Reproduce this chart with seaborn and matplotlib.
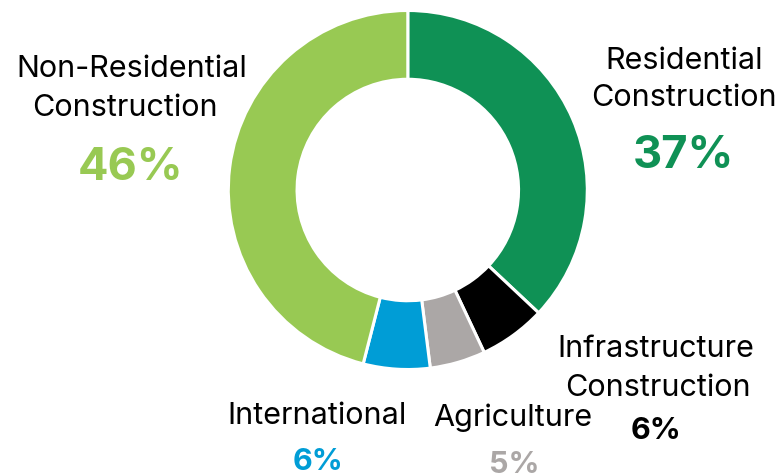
import matplotlib
matplotlib.use("Agg")
import matplotlib.pyplot as plt
import seaborn as sns

# Segment shares (percent), clockwise from 12 o'clock
segments = ["Residential Construction", "Infrastructure Construction",
            "Agriculture", "International", "Non-Residential Construction"]
shares = [37, 6, 5, 6, 46]
colors = sns.color_palette(["#0F9155", "#000000", "#ABA7A6", "#009DD6", "#98C953"])

sns.set_style("white")
plt.rcParams["font.family"] = ["Inter", "DejaVu Sans"]

W, H = 780, 473
fig = plt.figure(figsize=(W / 100, H / 100), dpi=100)
ax = fig.add_axes([0, 0, 1, 1])

cx, cy, R = 407.8, H - 190, 179.5
ax.pie(shares, colors=colors, startangle=90, counterclock=False,
       center=(cx, cy), radius=R, frame=True,
       wedgeprops=dict(width=R * 0.383, edgecolor="white", linewidth=2.2))
ax.set_xlim(0, W)
ax.set_ylim(0, H)
ax.set_aspect("equal")
ax.axis("off")


def y(px):
    return H - px


name_fs = 22
big_fs = 32.5
small_fs = 22


def name(x, base, s):
    ax.text(x, y(base), s, ha="center", va="baseline", fontsize=name_fs, color="black")


def pct(x, base, v, c, fs):
    ax.text(x, y(base), f"{v}%", ha="center", va="baseline", fontsize=fs,
            fontweight="bold", color=c)


# Residential
name(684, 69, "Residential")
name(684, 106, "Construction")
pct(683, 168, shares[0], colors[0], big_fs)

# Non-Residential
name(131.5, 77, "Non-Residential")
name(125, 116, "Construction")
pct(130.5, 180, shares[4], colors[4], big_fs)

# Infrastructure
name(656, 357, "Infrastructure")
name(658, 396, "Construction")
pct(656, 439, shares[1], colors[1], small_fs)

# International
name(317, 424, "International")
pct(317.5, 470, shares[3], colors[3], small_fs)

# Agriculture
name(513, 426, "Agriculture")
pct(514, 473, shares[2], colors[2], small_fs)

fig.savefig("out.png", dpi=100, facecolor="white")
